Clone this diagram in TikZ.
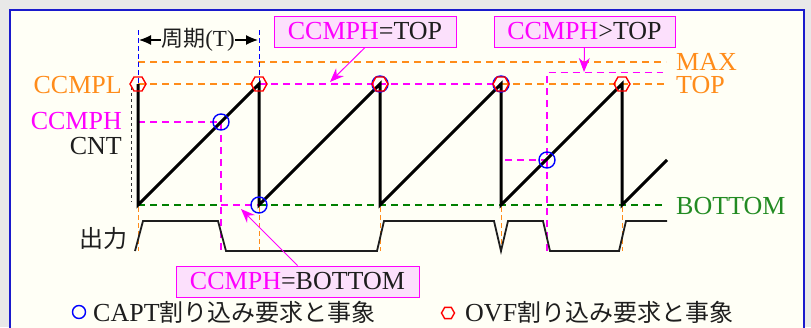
\documentclass[tikz,border=0pt]{standalone}
\usepackage{fontspec}
\setmainfont{Liberation Serif}
\newfontfamily\cjk{Noto Sans CJK JP}
\usetikzlibrary{arrows.meta}
\definecolor{orng}{RGB}{255,140,26}
\definecolor{mag}{RGB}{255,0,255}
\definecolor{grn}{RGB}{0,128,0}
\definecolor{grntxt}{RGB}{34,139,34}
\definecolor{bgray}{RGB}{232,232,232}
\definecolor{ivory}{RGB}{255,255,246}
\definecolor{framec}{RGB}{26,26,204}
\definecolor{pinkfill}{RGB}{252,224,252}
\definecolor{txt}{RGB}{30,30,30}
\newcommand\jpt[1]{{\cjk\fontsize{24}{24}\selectfont #1}}
\tikzset{
  lbl/.style={font=\fontsize{26}{26}\selectfont, inner sep=0pt, text height=17.5pt, text depth=0pt},
  dsh/.style={line width=1.4pt, dash pattern=on 7pt off 5pt},
  thindsh/.style={line width=1pt, dash pattern=on 5pt off 3pt},
  saw/.style={line width=3pt, black},
  outwave/.style={line width=1.8pt, txt},
  capt/.style={blue, line width=1.4pt},
  hexa/.pic={\draw[red, line width=1.4pt] (-8,0)--(-4,-7)--(4,-7)--(8,0)--(4,7)--(-4,7)--cycle;},
  hexas/.pic={\draw[red, line width=1.4pt] (-6.5,0)--(-3.3,-5.6)--(3.3,-5.6)--(6.5,0)--(3.3,5.6)--(-3.3,5.6)--cycle;},
  callout/.style={draw=mag, fill=pinkfill, line width=1pt, font=\fontsize{26}{26}\selectfont, inner sep=0pt},
  marrow/.style={mag, line width=1pt, -{Stealth[length=14pt,width=11pt]}},
  parrow/.style={black, line width=1.2pt, -{Latex[length=12pt,width=10pt]}}
}
\begin{document}
\begin{tikzpicture}[x=1pt,y=-1pt]
\useasboundingbox (0,0) rectangle (811,327);
\fill[bgray] (0,0) rectangle (811,327);
\draw[framec, line width=2.5pt, fill=ivory] (10,10) rectangle (804,345);

% reference lines
\draw[dsh, orng] (138,62) -- (666,62);
\draw[dsh, orng] (138,84) -- (259,84);
\draw[dsh, mag] (259,84) -- (501,84);
\draw[dsh, orng] (501,84) -- (666,84);
\draw[dsh, grn] (138,205) -- (221,205);
\draw[dsh, mag] (221,205) -- (259,205);
\draw[dsh, grn] (259,205) -- (666,205);
\draw[dsh, mag] (138,122) -- (221,122) -- (221,251);
\draw[dsh, mag] (547,251) -- (547,72.5) -- (663,72.5);
\draw[dsh, mag] (505,160) -- (547,160);
\draw[thindsh, blue] (138,30) -- (138,84);
\draw[thindsh, blue] (259,30) -- (259,84);
\draw[line width=1pt, gray!40!black, dash pattern=on 3pt off 3pt] (131,87) -- (131,202);
\foreach \xx in {138,259,380,501,622}
  \draw[thindsh, orng] (\xx,207) -- (\xx,251);

% counter sawtooth
\draw[saw] (138,84) -- (138,205) -- (259,84) -- (259,205) -- (380,84) -- (380,205)
  -- (501,84) -- (501,205) -- (622,84) -- (622,205) -- (667,160);

% output waveform
\draw[outwave] (135,251) -- (143,221) -- (218,221) -- (226,251) -- (377,251) -- (384,221)
  -- (494,221) -- (501,251) -- (508,221) -- (543,221) -- (550,251) -- (619,251)
  -- (626,221) -- (667,221);

% events
\foreach \p in {(221,122),(259,205),(380,84),(501,84),(547,160)}
  \draw[capt] \p circle (8);
\foreach \xx in {138,259,380,501,622}
  \pic at (\xx,84) {hexa};

% left labels
\node[lbl, orng, anchor=east] (lccmpl) at (122,84.5) {CCMPL};
\node[lbl, mag, anchor=east] (lccmph) at (122,120.5) {CCMPH};
\node[lbl, txt, anchor=east] (lcnt) at (122,146) {CNT};
\node[inner sep=0pt, txt, anchor=east] (lout) at (128,238) {\jpt{出力}};
% right labels
\node[lbl, orng, anchor=west] (lmax) at (676,62) {MAX};
\node[lbl, orng, anchor=west] (ltop) at (676,85) {TOP};
\node[lbl, grntxt, anchor=west] (lbot) at (676,206) {BOTTOM};

% period
\node[inner sep=0pt, txt] (per) at (198,40) {{\cjk\fontsize{22}{22}\selectfont 周期}{\fontsize{23}{23}\selectfont (T)}};
\coordinate (pl) at (139,40);
\coordinate (pr) at (258,40);
\draw[parrow] (per.west) -- (pl);
\draw[parrow] (per.east) -- (pr);

% callouts
\node[callout, minimum width=182pt, minimum height=31pt] (c1) at (365,31.5) {\textcolor{mag}{CCMPH}\textcolor{txt}{=TOP}};
\node[callout, minimum width=181pt, minimum height=31pt] (c2) at (584.5,31.5) {\textcolor{mag}{CCMPH}\textcolor{txt}{>TOP}};
\node[callout, minimum width=243pt, minimum height=31pt] (c3) at (297.5,281.5) {\textcolor{mag}{CCMPH}\textcolor{txt}{=BOTTOM}};
\coordinate (t1) at (330,82);
\coordinate (t2) at (584,72);
\coordinate (t3) at (241,209);
\draw[marrow] (c1.south) -- (t1);
\draw[marrow] (c2.south) -- (t2);
\draw[marrow] (c3.north) -- (t3);

% legend
\draw[capt] (79,312) circle (6.5);
\node[inner sep=0pt, txt, anchor=west] (leg1) at (93,312) {\fontsize{26}{26}\selectfont CAPT\jpt{割り込み要求と事象}};
\pic at (448,313) {hexas};
\node[inner sep=0pt, txt, anchor=west] (leg2) at (465,312) {\fontsize{26}{26}\selectfont OVF\jpt{割り込み要求と事象}};
\end{tikzpicture}
\end{document}
